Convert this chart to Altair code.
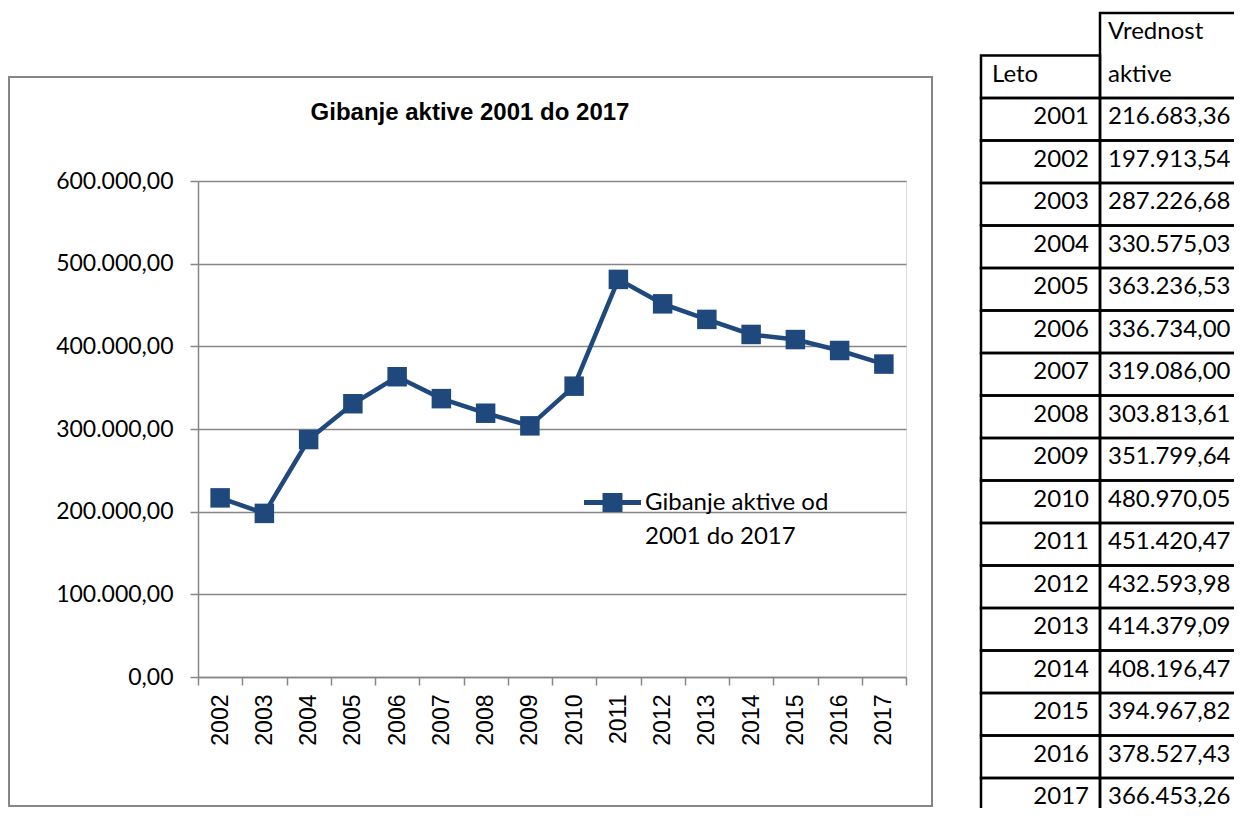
import json
import altair as alt
import pandas as pd

# ---------------- data ----------------
chart_title = "Gibanje aktive 2001 do 2017"
series_name = "Gibanje aktive od 2001 do 2017"
legend_lines = ["Gibanje aktive od", "2001 do 2017"]

chart_years = ["2002", "2003", "2004", "2005", "2006", "2007", "2008", "2009",
               "2010", "2011", "2012", "2013", "2014", "2015", "2016", "2017"]
chart_values = [216683.36, 197913.54, 287226.68, 330575.03, 363236.53, 336734.00,
                319086.00, 303813.61, 351799.64, 480970.05, 451420.47, 432593.98,
                414379.09, 408196.47, 394967.82, 378527.43]
y_ticks = [0, 100000, 200000, 300000, 400000, 500000, 600000]

table_header_year = "Leto"
table_header_value = ["Vrednost", "aktive"]
table_years = ["2001", "2002", "2003", "2004", "2005", "2006", "2007", "2008", "2009",
               "2010", "2011", "2012", "2013", "2014", "2015", "2016", "2017"]
table_values = ["216.683,36", "197.913,54", "287.226,68", "330.575,03", "363.236,53",
                "336.734,00", "319.086,00", "303.813,61", "351.799,64", "480.970,05",
                "451.420,47", "432.593,98", "414.379,09", "408.196,47", "394.967,82",
                "378.527,43", "366.453,26"]

# ---------------- styling ----------------
BLUE = "#1F497D"
GRAY = "#868686"
CAL = "Lato"
ARIAL = "Liberation Sans"

line_df = pd.DataFrame({"year": chart_years, "value": chart_values,
                        "series": [series_name] * len(chart_years)})

# table structure (row index 0..18, column edges 0..2)
n_head = 2
cells = [{"c0": 0, "c1": 1, "r0": 1, "r1": 2},
         {"c0": 1, "c1": 2, "r0": 0, "r1": 2}]
for i in range(len(table_years)):
    r = n_head + i
    cells.append({"c0": 0, "c1": 1, "r0": r, "r1": r + 1})
    cells.append({"c0": 1, "c1": 2, "r0": r, "r1": r + 1})
cells_df = pd.DataFrame(cells)

year_txt = pd.DataFrame({"edge": 1, "row": [n_head + i + 0.5 for i in range(len(table_years))],
                         "text": table_years})
val_rows = [0.5, 1.5] + [n_head + i + 0.5 for i in range(len(table_values))]
val_txt = pd.DataFrame({"edge": 1, "row": val_rows, "text": table_header_value + table_values})
head_txt = pd.DataFrame({"edge": [0], "row": [1.5], "text": [table_header_year]})

n_rows = n_head + len(table_years)
tx = alt.Scale(domain=[0, 1, 2], range=[783, 902, 1062], nice=False, zero=False)
ty = alt.Scale(domain=[0, n_rows], range=[-168, -168 + 42.5 * n_rows], nice=False, zero=False)

# ---------------- main line chart ----------------
xscale = alt.Scale(type="band", paddingInner=0, paddingOuter=0)
yscale = alt.Scale(domain=[0, 600000], nice=False)

xaxis = alt.Axis(title=None, labelAngle=-90, labelAlign="right", labelBaseline="middle",
                 labelFont=ARIAL, labelFontSize=23, labelColor="black", labelPadding=9,
                 tickBand="extent", tickSize=8, tickColor=GRAY, tickWidth=1.5,
                 domainColor=GRAY, domainWidth=1.5, grid=False, labelOverlap=False)
yaxis = alt.Axis(title=None, values=y_ticks,
                 labelExpr="replace(replace(replace(format(datum.value, ',.2f'), ',', ' '), '.', ','), ' ', '.')",
                 grid=True, gridColor=GRAY, gridWidth=1.5, domainColor=GRAY, domainWidth=1.5,
                 tickColor=GRAY, tickWidth=1.5, tickSize=8, labelFont=CAL, labelFontSize=23,
                 labelColor="black", labelPadding=17)

sym_path = "M-1,-0.334H1V-0.158H-1Z M-0.35,-0.58H0.35V0.088H-0.35Z"
legend = alt.Legend(title=None, orient="none", legendX=386, legendY=300,
                    symbolType=sym_path, symbolSize=3249, symbolStrokeWidth=0,
                    labelFont=CAL, labelFontSize=24, labelColor="black", labelLimit=0,
                    labelOffset=4, labelBaseline="alphabetic",
                    labelExpr=json.dumps(legend_lines), padding=0)

base = alt.Chart(line_df)
line = base.mark_line(color=BLUE, strokeWidth=4.5).encode(
    x=alt.X("year:O", scale=xscale, axis=xaxis),
    y=alt.Y("value:Q", scale=yscale, axis=yaxis),
)
points = base.mark_square(size=380, opacity=1).encode(
    x=alt.X("year:O", scale=xscale, axis=xaxis),
    y=alt.Y("value:Q", scale=yscale, axis=yaxis),
    color=alt.Color("series:N", scale=alt.Scale(domain=[series_name], range=[BLUE]), legend=legend),
)
main = alt.layer(line, points)

# ---------------- frame ----------------
frame = alt.Chart(alt.Data(values=[{"k": 0}])).mark_rect(
    fillOpacity=0, stroke=GRAY, strokeWidth=2
).encode(x=alt.value(-189), x2=alt.value(734), y=alt.value(-104), y2=alt.value(625))

# ---------------- table ----------------
cell_layer = alt.Chart(cells_df).mark_rect(fillOpacity=0, stroke="black", strokeWidth=2.5).encode(
    x=alt.X("c0:Q", scale=tx, axis=None), x2="c1:Q",
    y=alt.Y("r0:Q", scale=ty, axis=None), y2="r1:Q",
)
year_layer = alt.Chart(year_txt).mark_text(align="right", baseline="middle", dx=-11, dy=-2,
                                           font=CAL, fontSize=24, color="black").encode(
    x=alt.X("edge:Q", scale=tx, axis=None), y=alt.Y("row:Q", scale=ty, axis=None), text="text:N")
val_layer = alt.Chart(val_txt).mark_text(align="left", baseline="middle", dx=8, dy=-2,
                                         font=CAL, fontSize=24, color="black").encode(
    x=alt.X("edge:Q", scale=tx, axis=None), y=alt.Y("row:Q", scale=ty, axis=None), text="text:N")
head_layer = alt.Chart(head_txt).mark_text(align="left", baseline="middle", dx=11, dy=-2,
                                           font=CAL, fontSize=24, color="black").encode(
    x=alt.X("edge:Q", scale=tx, axis=None), y=alt.Y("row:Q", scale=ty, axis=None), text="text:N")
table = alt.layer(cell_layer, year_layer, val_layer, head_layer)

chart = alt.layer(frame, main, table).resolve_scale(
    x="independent", y="independent"
).properties(
    width=708, height=496,
    autosize=alt.AutoSizeParams(type="none"),
    title=alt.TitleParams(text=chart_title, font=ARIAL, fontSize=24, fontWeight="bold",
                          color="black", anchor="middle", frame="group", dx=-82,
                          offset=-132, baseline="alphabetic"),
).configure_view(strokeWidth=0).configure(
    padding={"left": 190, "top": 173, "right": 328, "bottom": 131}, background="white",
    style={"guide-label": {"lineHeight": 34}},
)

chart.save("out.html", embed_options={"renderer": "svg", "actions": False})
